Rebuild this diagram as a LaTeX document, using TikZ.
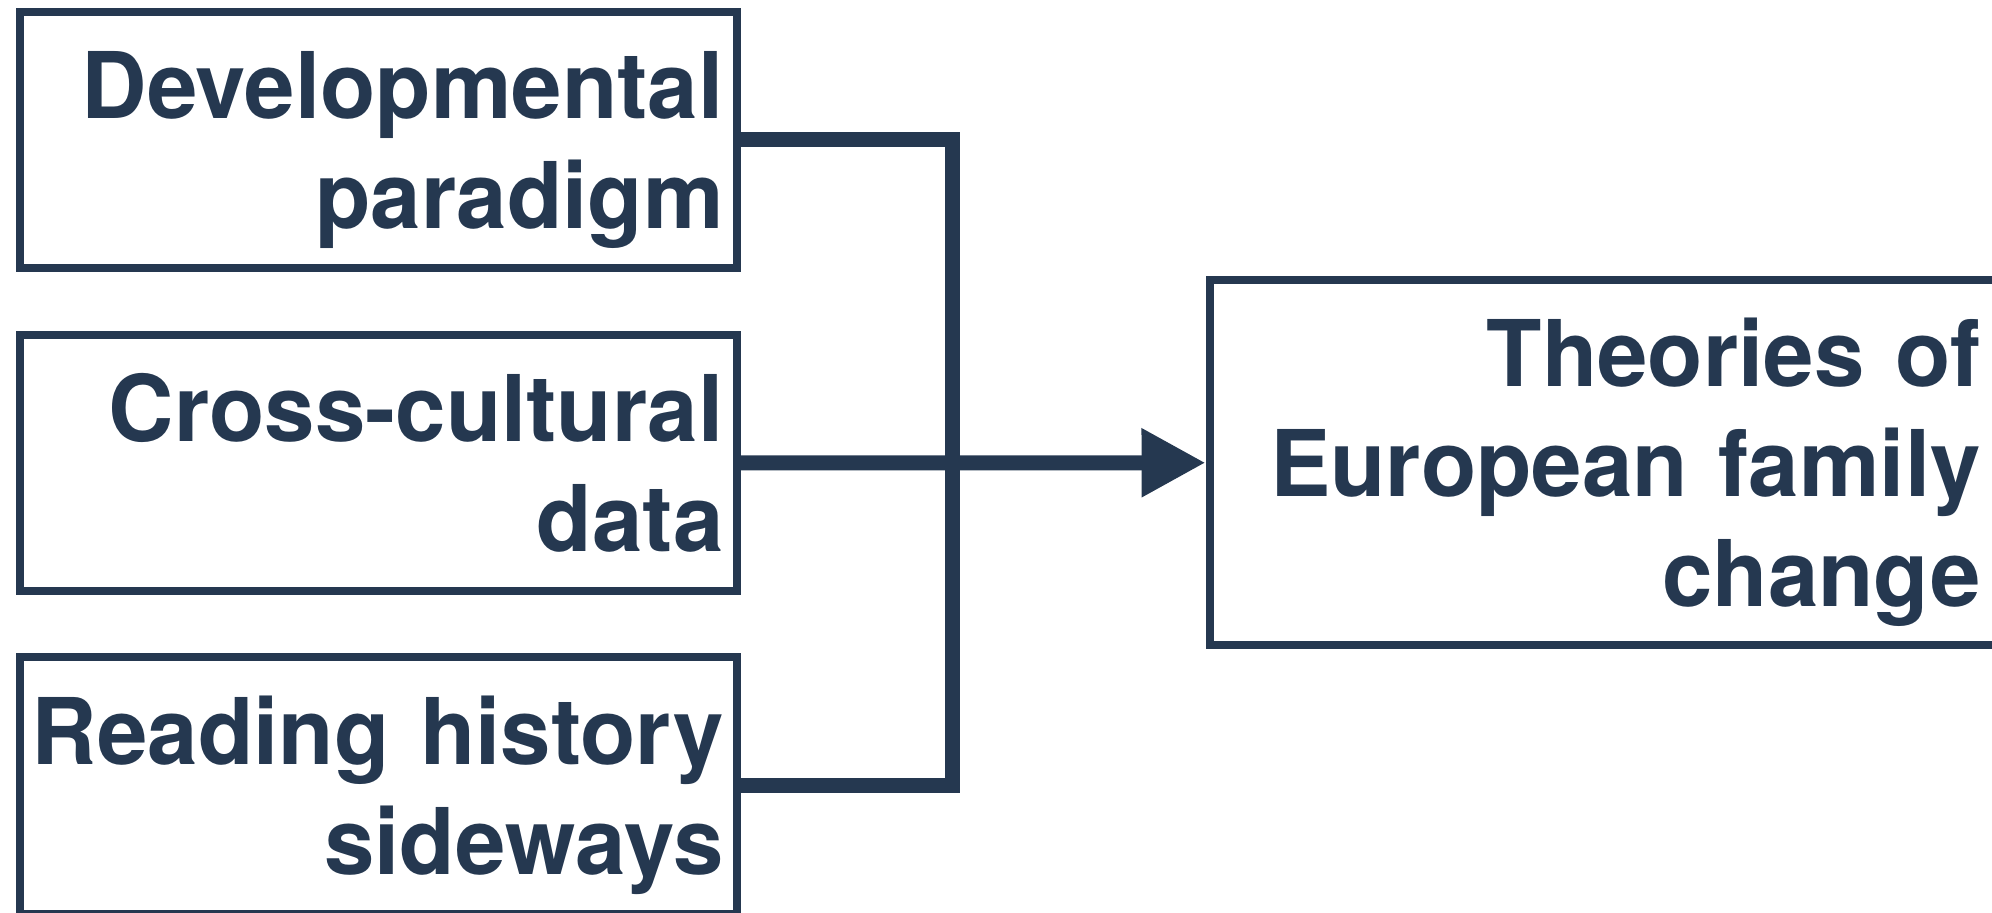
\documentclass[tikz,border=0pt]{standalone}
\usepackage{fontspec}
\setmainfont{TeX Gyre Heros}[FakeStretch=0.985]
\usetikzlibrary{arrows.meta}
\definecolor{navy}{HTML}{253850}
\tikzset{
  box/.style={draw=navy, line width=4pt, rectangle, inner sep=0pt, fill=none},
  srcbox/.style={box, minimum width=358.75pt, minimum height=128pt},
  lbl/.style={text=navy, inner sep=0pt, align=right, text width=390pt, anchor=base east,
    font=\fontsize{46pt}{55pt}\selectfont\bfseries},
  conn/.style={draw=navy, line width=7.5pt, line join=miter, line cap=butt},
  arr/.style={conn, -{Triangle[length=32pt, width=32.5pt]}}
}
\begin{document}
\begin{tikzpicture}[x=0.5pt, y=-0.5pt]
\useasboundingbox (0,0) rectangle (1992,913);
\node[srcbox] (b1) at (378.25,140) {};
\node[srcbox] (b2) at (378.25,463) {};
\node[srcbox] (b3) at (378.25,785.5) {};
\node[box, minimum width=400.25pt, minimum height=182.25pt] (tgt) at (1609.75,462.75) {};
\node[lbl] (t1) at (724,119) {Developmental\\paradigm};
\node[lbl] (t2) at (724,442) {Cross-cultural\\data};
\node[lbl] (t3) at (724,764.5) {Reading history\\sideways};
\node[lbl] (t4) at (1981,387) {Theories of\\European family\\change};
\coordinate (j) at (952,462.5);
\draw[conn] (b1.east) -| (j) |- (b3.east);
\draw[arr] (b2.east) -- (tgt.west);
\end{tikzpicture}
\end{document}
